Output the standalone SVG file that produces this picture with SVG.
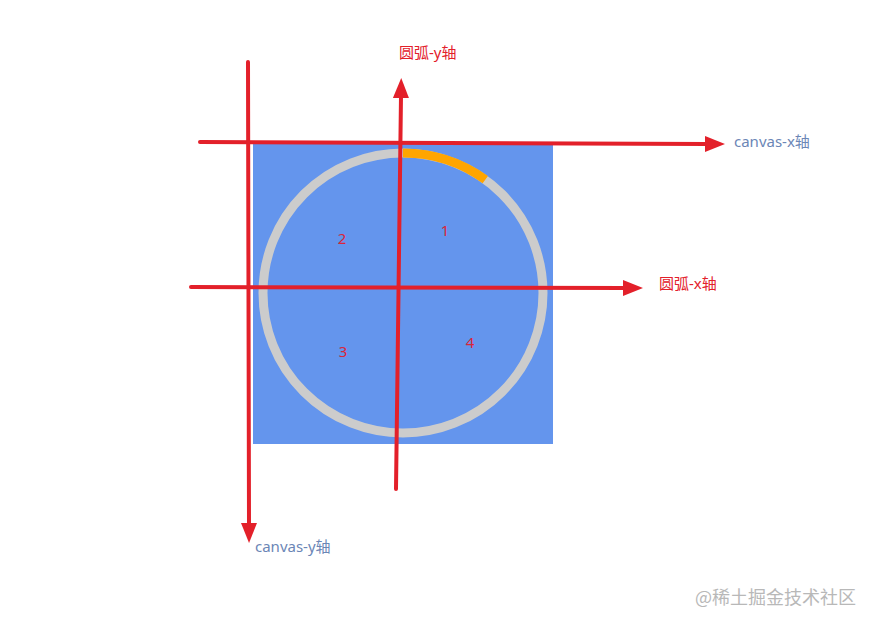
<svg xmlns="http://www.w3.org/2000/svg" width="874" height="628" viewBox="0 0 874 628">
<style>
.ax{stroke:#e3202a;stroke-width:4;stroke-linecap:round;fill:none}
.red{fill:#e3202a;font-family:"Noto Sans","Noto Sans CJK SC",sans-serif;font-size:15px}
.blu{fill:#6b86b6;font-family:"Noto Sans","Noto Sans CJK SC",sans-serif;font-size:15px}
.num{fill:#d9263a;font-family:"Noto Sans",sans-serif;font-size:15px;text-anchor:middle}
</style>
<defs>
<marker id="ah" markerWidth="5" markerHeight="4" refX="0.5" refY="2" orient="auto" markerUnits="strokeWidth">
<path d="M0,0 L5,2 L0,4 Z" fill="#e3202a"/>
</marker>
</defs>
<rect width="874" height="628" fill="#fff"/>
<g id="canvas">
<rect x="253" y="144" width="300" height="300" fill="#6495ed"/>
<circle cx="403" cy="293" r="140" fill="none" stroke="#cccccc" stroke-width="9"/>
<path d="M403,153 A140,140 0 0 1 485.3,179.7" fill="none" stroke="#ffa500" stroke-width="9"/>
</g>
<g id="quadrants">
<text class="num" x="445" y="236">1</text>
<text class="num" x="342" y="244">2</text>
<text class="num" x="343" y="357">3</text>
<text class="num" x="470" y="348">4</text>
</g>
<g id="connectors">
<line class="ax" x1="200" y1="142" x2="707" y2="144" marker-end="url(#ah)"/>
<line class="ax" x1="248" y1="62" x2="249" y2="525" marker-end="url(#ah)"/>
<line class="ax" x1="396" y1="489" x2="401" y2="96" marker-end="url(#ah)"/>
<line class="ax" x1="191" y1="287" x2="625" y2="288" marker-end="url(#ah)"/>
</g>
<g id="labels">
<text class="red" x="399" y="58">圆弧-y轴</text>
<text class="blu" x="734" y="147">canvas-x轴</text>
<text class="red" x="659" y="289">圆弧-x轴</text>
<text class="blu" x="255" y="552">canvas-y轴</text>
</g>
<text x="695" y="604" fill="#b8b8b8" font-family="Noto Sans CJK SC,sans-serif" font-size="18">@稀土掘金技术社区</text>
</svg>
